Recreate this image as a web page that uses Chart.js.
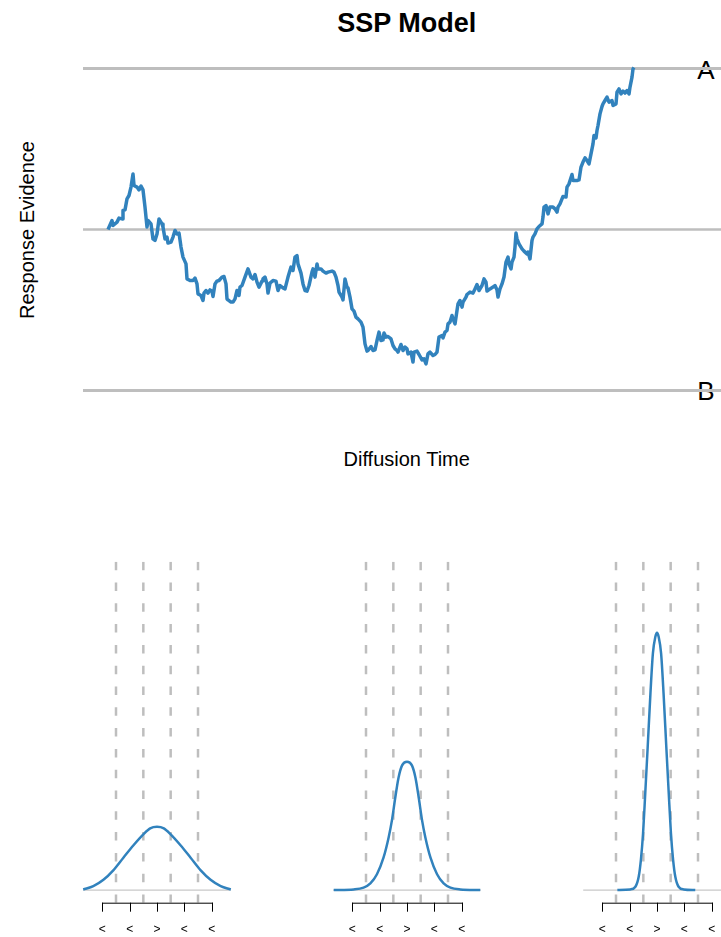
<!DOCTYPE html>
<html>
<head>
<meta charset="utf-8">
<title>SSP Model</title>
<script src="https://cdn.jsdelivr.net/npm/chart.js@4.4.1/dist/chart.umd.min.js"></script>
<style>
  html, body { margin: 0; padding: 0; background: #fff; }
  body { width: 721px; height: 937px; position: relative; overflow: hidden;
         font-family: "Liberation Sans", Arial, Helvetica, sans-serif; }
  canvas { position: absolute; }
  .lbl { position: absolute; line-height: 1; white-space: nowrap; color: #000; }
</style>
</head>
<body>
<div class="lbl" style="left:406.7px; top:10.4px; font-size:27px; font-weight:bold; transform:translateX(-50%)">SSP Model</div>
<div class="lbl" style="left:26.8px; top:229.9px; font-size:20px; transform:translate(-50%,-50%) rotate(-90deg)">Response Evidence</div>
<div class="lbl" style="left:406.7px; top:449px; font-size:20px; transform:translateX(-50%)">Diffusion Time</div>
<div class="lbl" style="left:706px; top:57.3px; font-size:26px; transform:translateX(-50%)">A</div>
<div class="lbl" style="left:706px; top:378px; font-size:26px; transform:translateX(-50%)">B</div>

<canvas id="walk" width="638" height="360" style="left:83px; top:50px"></canvas>
<canvas id="spot1" width="164" height="387" style="left:75px; top:550px"></canvas>
<canvas id="spot2" width="164" height="387" style="left:325px; top:550px"></canvas>
<canvas id="spot3" width="164" height="387" style="left:575px; top:550px"></canvas>

<script>
// diffusion trace (time, evidence)
const times = [0,4,5,9,11,14,15,17,19,21,23,25,26,29,31,33,35,37,39,40,43,45,47,49,51,54,55,57,59,60,63,65,67,69,71,73,75,78,79,82,85,87,89,90,93,95,96,98,100,102,104,105,107,109,111,114,116,118,119,120,123,125,127,129,131,132,134,137,140,143,145,147,149,151,154,155,157,159,160,162,165,168,170,172,175,177,180,183,185,187,189,190,193,195,197,199,201,204,205,207,209,210,213,215,218,220,224,226,228,230,231,234,235,237,239,240,242,244,246,248,250,253,255,257,259,260,263,265,267,269,271,273,275,276,278,280,283,285,287,289,290,293,295,297,299,300,303,305,306,309,311,314,316,318,320,322,325,327,329,331,334,335,337,339,340,342,344,345,347,349,350,352,354,355,358,359,362,365,367,369,371,374,376,378,379,382,385,387,389,390,392,394,396,398,400,401,403,404,406,407,408,409,411,414,416,419,420,422,424,425,427,429,431,434,435,436,438,440,442,445,447,449,450,452,454,455,458,459,461,464,465,469,471,473,475,477,479,481,483,485,486,488,489,490,492,494,495,497,499,501,504,505,508,509,511,513,515,517,519,521,522,524,525,526];
const evidence = [0,4.5,2,3.7,5.7,5.3,9.5,9.8,15.3,17,21.2,27.8,22,21.2,19.8,21.7,19.8,11.2,1.2,4.5,2.8,-4.7,-5.5,-2.2,5.3,2.8,1.2,-4.7,-3.8,-6.8,-6.3,-3.8,-0.5,-2.2,-1.8,-8.8,-13.8,-17.2,-24.7,-25.5,-25.5,-24.3,-27.2,-32.2,-33,-35.5,-31.8,-30.5,-31.8,-30.2,-30.8,-33.5,-27.2,-25.8,-25.5,-23.8,-23.5,-27.2,-34.7,-35.2,-36.3,-36.3,-34.7,-30.5,-33,-28.8,-28,-23.8,-19.7,-23.8,-24.7,-22.5,-26.3,-28.8,-25.8,-24.7,-23.8,-27.2,-31.8,-26.8,-25.5,-25.8,-30.5,-28,-29.2,-29.7,-23.8,-18.8,-20.5,-13.8,-13,-17.2,-21.8,-27.2,-30.5,-30.8,-28,-21.3,-19.7,-23.8,-17.2,-19.7,-19.7,-20.8,-21.8,-21.3,-20.8,-21.3,-23.8,-28,-31.3,-33.8,-35.2,-24.7,-28.8,-29.2,-33.8,-39.7,-40.8,-43.8,-44.7,-46.3,-48.8,-57.2,-60.8,-60.5,-58.5,-60.5,-60.2,-55.5,-51.3,-55.5,-55.2,-51.8,-53.8,-53.5,-54.7,-58,-59.7,-60.5,-61.3,-57.5,-60.5,-58.8,-59.7,-62.2,-61.3,-66.3,-61.3,-60.8,-62.5,-65.2,-64.7,-67.2,-62.2,-61.3,-63,-62.5,-61.3,-53.8,-53,-54.2,-51.3,-50.5,-47.2,-46.3,-43,-44.7,-47.2,-40.5,-37.2,-35.5,-38.8,-36.3,-33.8,-32.5,-31.3,-31.8,-29.7,-27.5,-30.5,-28,-24.7,-26.3,-30.8,-29.7,-28.8,-28,-30.2,-33.8,-29.7,-27.2,-23.8,-16.3,-13.8,-17.2,-19.7,-16.3,-13.8,-8.8,-1.8,-4.7,-7.2,-9.7,-10.8,-12.2,-11.3,-14.7,-5.5,-3.8,-2.2,0.3,1.5,2.8,6.2,11.2,12,7.8,11.2,11.2,10.3,8.7,11.2,12.8,15.3,16.5,16.2,21.2,22.8,27.5,24.5,24.5,24.8,31.2,33.7,35.8,34.5,32.8,37.8,42.8,47,45.8,49.5,52,57.8,61.5,62.8,64.5,66.2,63.7,64.5,62,62.8,68.7,70.3,67.8,69.2,68.2,69.5,67.8,71.2,76.2,80.3,81];

const upperBound = 80.5;
const lowerBound = -80.5;
const timeMin = -25, timeMax = 613;

// spotlight distributions at three time points
const spotX1 = [-2.7,-2.33,-1.96,-1.6,-1.23,-0.86,-0.5,-0.25,0,0.25,0.5,0.86,1.23,1.6,1.96,2.33,2.7];
const spotY1 = [0.004,0.025,0.065,0.125,0.205,0.284,0.353,0.391,0.401,0.391,0.353,0.284,0.205,0.125,0.065,0.025,0.004];
const spotX2 = [-2.68,-1.95,-1.59,-1.34,-1.1,-0.86,-0.67,-0.55,-0.43,-0.31,-0.18,0,0.18,0.31,0.43,0.55,0.67,0.86,1.1,1.34,1.59,1.95,2.68];
const spotY2 = [0,0.004,0.015,0.042,0.1,0.205,0.335,0.443,0.585,0.712,0.79,0.813,0.79,0.712,0.585,0.443,0.335,0.205,0.1,0.042,0.015,0.004,0];
const spotX3 = [-1.45,-0.98,-0.79,-0.67,-0.59,-0.51,-0.43,-0.34,-0.24,-0.15,-0.06,0,0.06,0.15,0.24,0.34,0.43,0.51,0.59,0.67,0.79,0.98,1.4];
const spotY3 = [0,0.004,0.021,0.084,0.19,0.359,0.612,0.908,1.246,1.499,1.604,1.63,1.604,1.499,1.246,0.908,0.612,0.359,0.19,0.084,0.021,0.004,0];

const letterEdges = [-1.5, -0.5, 0.5, 1.5];
const tickValues = [-2, -1, 0, 1, 2];
const tickLabels = ['<', '<', '>', '<', '<'];

const blue = '#3182BD';
const grey = '#BEBEBE';

function hline(y, x0, x1, width) {
  return {
    data: [{ x: x0, y: y }, { x: x1, y: y }],
    borderColor: grey, borderWidth: width, pointRadius: 0, showLine: true, order: 2
  };
}

new Chart(document.getElementById('walk'), {
  type: 'scatter',
  data: {
    datasets: [
      {
        data: times.map((t, i) => ({ x: t, y: evidence[i] })),
        borderColor: blue, borderWidth: 3.5, pointRadius: 0, showLine: true,
        tension: 0, borderJoinStyle: 'round', order: 0
      },
      hline(upperBound, timeMin, timeMax, 3),
      hline(0, timeMin, timeMax, 2.5),
      hline(lowerBound, timeMin, timeMax, 3)
    ]
  },
  options: {
    responsive: false, animation: false,
    layout: { padding: 0 },
    plugins: { legend: { display: false }, tooltip: { enabled: false } },
    scales: {
      x: { type: 'linear', display: false, min: timeMin, max: timeMax },
      y: { display: false, min: -90.25, max: 89.75 }
    }
  }
});

// axis with flanker/target letters under each spotlight
const letterAxis = {
  id: 'letterAxis',
  afterDraw(chart) {
    const ctx = chart.ctx;
    const xs = chart.scales.x;
    const yAxis = chart.chartArea.bottom;
    ctx.save();
    ctx.strokeStyle = '#000';
    ctx.lineWidth = 1;
    ctx.beginPath();
    ctx.moveTo(Math.round(xs.getPixelForValue(tickValues[0])), yAxis + 0.5);
    ctx.lineTo(Math.round(xs.getPixelForValue(tickValues[tickValues.length - 1])) + 1, yAxis + 0.5);
    tickValues.forEach(v => {
      const px = Math.round(xs.getPixelForValue(v)) + 0.5;
      ctx.moveTo(px, yAxis);
      ctx.lineTo(px, yAxis + 9);
    });
    ctx.stroke();
    ctx.fillStyle = '#000';
    ctx.font = '12px "Liberation Sans", Arial, sans-serif';
    ctx.textAlign = 'center';
    ctx.textBaseline = 'middle';
    tickValues.forEach((v, i) => {
      ctx.fillText(tickLabels[i], xs.getPixelForValue(v), yAxis + 26.5);
    });
    ctx.restore();
  }
};

function spotlight(id, xs, ys) {
  const datasets = [
    {
      data: xs.map((x, i) => ({ x: x, y: ys[i] })),
      borderColor: blue, borderWidth: 2.5, pointRadius: 0, showLine: true,
      cubicInterpolationMode: 'monotone', order: 0
    },
    Object.assign(hline(0, -2.7, 2.7, 1.3), { borderColor: '#C8C8C8' })
  ];
  letterEdges.forEach(e => {
    datasets.push({
      data: [{ x: e, y: 2.08 }, { x: e, y: -0.08 }],
      borderColor: grey, borderWidth: 2.5, borderDash: [8.5, 12.3],
      pointRadius: 0, showLine: true, order: 1
    });
  });
  new Chart(document.getElementById(id), {
    type: 'scatter',
    data: { datasets },
    options: {
      responsive: false, animation: false,
      layout: { padding: { top: 11.7, bottom: 34.3, left: 0, right: 0 } },
      plugins: { legend: { display: false }, tooltip: { enabled: false } },
      scales: {
        x: { type: 'linear', display: false, min: -3, max: 3 },
        y: { display: false, min: -0.08, max: 2.08 }
      }
    },
    plugins: [letterAxis]
  });
}

spotlight('spot1', spotX1, spotY1);
spotlight('spot2', spotX2, spotY2);
spotlight('spot3', spotX3, spotY3);
</script>
</body>
</html>
